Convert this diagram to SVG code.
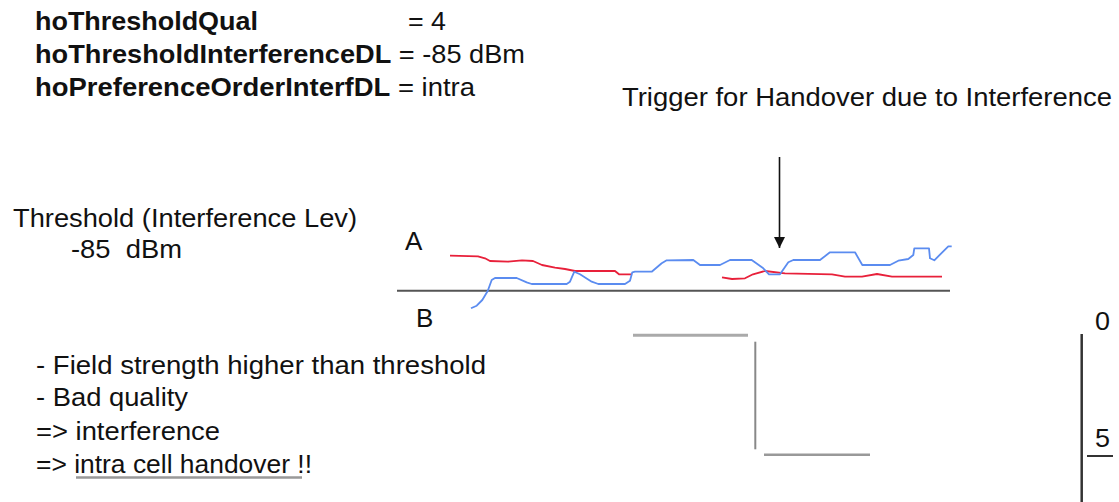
<svg xmlns="http://www.w3.org/2000/svg" width="1119" height="502" viewBox="0 0 1119 502">
<style>
  text { font-family: "Liberation Sans", Arial, sans-serif; font-size: 26px; fill: #111; white-space: pre; }
  .b { font-weight: bold; }
  .red { fill: none; stroke: #e8203a; stroke-width: 1.8; stroke-linejoin: round; }
  .blue { fill: none; stroke: #5b8cf0; stroke-width: 1.8; stroke-linejoin: round; }
</style>
<defs>
  <marker id="arrowhead" markerWidth="12" markerHeight="12" refX="11" refY="5.5" orient="auto" markerUnits="userSpaceOnUse" viewBox="0 0 12 12">
    <path d="M0,0 L11,5.5 L0,11 Z" fill="#111"/>
  </marker>
</defs>
<rect width="1119" height="502" fill="#fff"/>

<g id="params">
  <text class="b" x="35" y="30" textLength="223" lengthAdjust="spacingAndGlyphs">hoThresholdQual</text>
  <text x="408" y="30" textLength="38" lengthAdjust="spacingAndGlyphs">= 4</text>
  <text x="35" y="63" textLength="490" lengthAdjust="spacingAndGlyphs"><tspan class="b">hoThresholdInterferenceDL</tspan> = -85 dBm</text>
  <text x="35" y="96" textLength="440" lengthAdjust="spacingAndGlyphs"><tspan class="b">hoPreferenceOrderInterfDL</tspan> = intra</text>
</g>

<g id="trigger-label">
  <text x="622" y="106" textLength="490" lengthAdjust="spacingAndGlyphs">Trigger for Handover due to Interference</text>
</g>

<g id="threshold-label">
  <text x="13" y="227" textLength="344" lengthAdjust="spacingAndGlyphs">Threshold (Interference Lev)</text>
  <text x="71" y="258" textLength="111" lengthAdjust="spacingAndGlyphs">-85  dBm</text>
</g>

<g id="chart">
  <text x="405" y="250">A</text>
  <text x="416" y="327">B</text>
  <line x1="397" y1="290.7" x2="950" y2="290.7" stroke="#555" stroke-width="2"/>
  <polyline class="red" points="450,255.7 478,256.3 485,258.3 490,261 508,261.7 522,260.3 533,261 542,265 555,267.7 565,269 575,271 615,271 619,274.3 632,274.3"/>
  <polyline class="red" points="722,277.3 732,279 745,278.3 753,274.3 765,271 785,273.3 832,274.3 845,276.7 862,276.7 877,274 892,276.7 942,276.7"/>
  <polyline class="blue" points="471,308.3 476.7,305.7 482.3,300 487.7,291 491.7,280 495,278 516.7,278 526.7,282.3 531.7,284 566.7,284 570,281.7 574.3,271.7 580,274.3 591.7,281.7 598.3,284 625,284 630,280.7 632.3,272.3 635,271.7 651.7,271.7 661.7,263.3 666.7,260.3 693.3,260 700,265 720,265 730,260 751.7,260 763.3,268.3 769,274.3 780,274.3 788.3,262.3 793.3,260 820,260 830,252.3 855,252.3 862.3,265 890,265 898.3,260.7 908.3,259 913.3,255 914.3,248.3 929,248.3 930,258.3 934.3,260.3 948.3,246.3 951.7,246.3"/>
</g>

<g id="connectors">
  <line x1="779.5" y1="157" x2="779.5" y2="248" stroke="#111" stroke-width="1.6" marker-end="url(#arrowhead)"/>
</g>

<g id="quality-steps">
  <line x1="633" y1="335.3" x2="748" y2="335.3" stroke="#aaa" stroke-width="3"/>
  <line x1="755.3" y1="341.7" x2="755.3" y2="449.3" stroke="#888" stroke-width="2"/>
  <line x1="764" y1="454.7" x2="870" y2="454.7" stroke="#999" stroke-width="2.5"/>
</g>

<g id="quality-axis">
  <text x="1095" y="330" textLength="15" lengthAdjust="spacingAndGlyphs">0</text>
  <line x1="1081.7" y1="334" x2="1081.7" y2="502" stroke="#333" stroke-width="2.5"/>
  <text x="1095" y="447" textLength="15" lengthAdjust="spacingAndGlyphs">5</text>
  <line x1="1087" y1="456" x2="1113" y2="456" stroke="#333" stroke-width="2"/>
</g>

<g id="notes">
  <text x="36" y="374" textLength="450" lengthAdjust="spacingAndGlyphs">- Field strength higher than threshold</text>
  <text x="36" y="406" textLength="152" lengthAdjust="spacingAndGlyphs">- Bad quality</text>
  <text x="36" y="440" textLength="184" lengthAdjust="spacingAndGlyphs">=&gt; interference</text>
  <text x="36" y="473" textLength="276" lengthAdjust="spacingAndGlyphs">=&gt; intra cell handover !!</text>
  <line x1="76" y1="477.5" x2="302" y2="477.5" stroke="#999" stroke-width="2.5"/>
</g>
</svg>
